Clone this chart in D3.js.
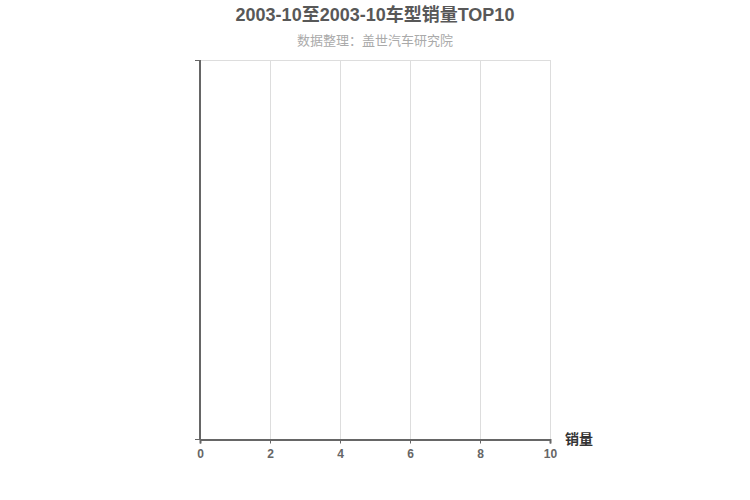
<!DOCTYPE html>
<html><head><meta charset="utf-8">
<script src="https://cdn.jsdelivr.net/npm/d3@7"></script>
<style>body{margin:0;background:#fff;}svg{display:block;font-family:Arial,"Liberation Sans","Noto Sans CJK SC",sans-serif;}</style>
</head><body>
<svg id="c" width="750" height="500"></svg>
<script>
const titleText = "2003-10至2003-10车型销量TOP10";
const subtitleText = "数据整理：盖世汽车研究院";
const xAxisName = "销量";
const categories = [];
const values = [];
const xDomain = [0, 10];
const xTicks = [0, 2, 4, 6, 8, 10];

const svg = d3.select("#c");
const m = {l:200, r:200, t:60, b:61};
const W = 750, H = 500;
const x = d3.scaleLinear().domain(xDomain).range([m.l, W - m.r]);
const y = d3.scaleBand().domain(categories).range([H - m.b, m.t]);

svg.append("text").attr("x", 375).attr("y", 21).attr("text-anchor","middle")
  .attr("font-size",18).attr("font-weight","bold").attr("fill","#585858").text(titleText);
svg.append("text").attr("x", 375).attr("y", 45).attr("text-anchor","middle")
  .attr("font-size",13).attr("fill","#aaa").text(subtitleText);

// grid
svg.append("g").selectAll("line").data(xTicks.slice(1)).join("line")
  .attr("x1", d => x(d) + 0.5).attr("x2", d => x(d) + 0.5)
  .attr("y1", m.t).attr("y2", H - m.b).attr("stroke","#ddd").attr("stroke-width",1);
svg.append("line").attr("x1", m.l).attr("x2", W - m.r).attr("y1", m.t + 0.5).attr("y2", m.t + 0.5)
  .attr("stroke","#ddd");

// bars (none)
svg.append("g").selectAll("rect").data(values).join("rect")
  .attr("x", x(0)).attr("y", (d,i) => y(categories[i]))
  .attr("width", d => x(d) - x(0)).attr("height", y.bandwidth()).attr("fill","#c23531");

// x axis
const xa = svg.append("g").attr("transform", `translate(0,${H - m.b + 0.5})`)
  .call(d3.axisBottom(x).tickValues(xTicks).tickSize(4).tickPadding(6));
xa.select(".domain").attr("stroke","#666").attr("stroke-width",2);
xa.selectAll(".tick line").attr("stroke","#666").attr("stroke-width",1);
xa.selectAll(".tick text").attr("fill","#666").attr("font-size",12).attr("font-weight","bold")
  .attr("font-family","Arial,'Liberation Sans',sans-serif");

// y axis
const ya = svg.append("g").attr("transform", `translate(${m.l},0)`);
ya.append("line").attr("x1",0).attr("x2",0).attr("y1",m.t).attr("y2",H - m.b)
  .attr("stroke","#666").attr("stroke-width",2);
[m.t, H - m.b].forEach(v => ya.append("line").attr("x1",-5).attr("x2",0).attr("y1",v+0.5).attr("y2",v+0.5)
  .attr("stroke","#666").attr("stroke-width",1));

svg.append("text").attr("x", W - m.r + 15).attr("y", H - m.b + 5)
  .attr("font-size",14).attr("font-weight","bold").attr("fill","#333").text(xAxisName);
</script>
</body></html>
